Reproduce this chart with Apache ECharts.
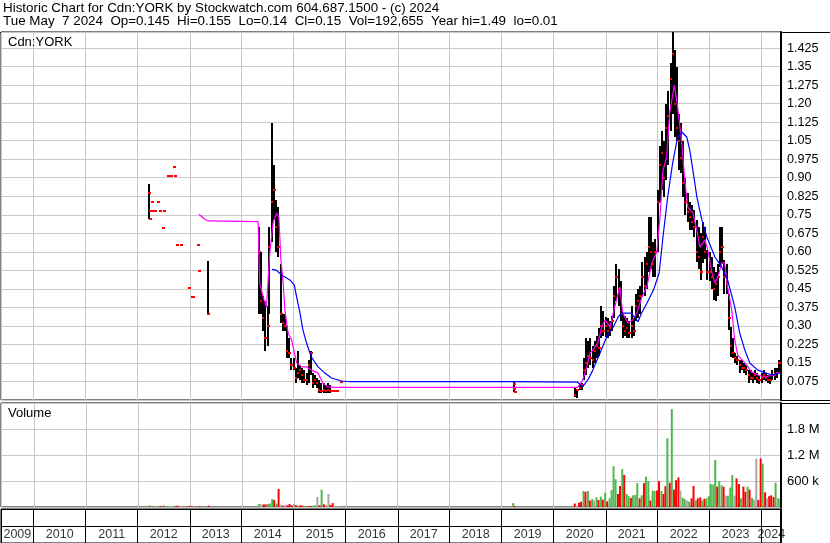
<!DOCTYPE html>
<html><head><meta charset="utf-8">
<script src="https://cdn.jsdelivr.net/npm/echarts@6.0.0/dist/echarts.min.js"></script>
<style>html,body{margin:0;padding:0;background:#fff}#c{width:830px;height:543px}</style>
</head><body><div id="c"></div>
<script>
const headerLine1 = 'Historic Chart for Cdn:YORK by Stockwatch.com 604.687.1500 - (c) 2024';
const headerLine2 = 'Tue May  7 2024  Op=0.145  Hi=0.155  Lo=0.14  Cl=0.15  Vol=192,655  Year hi=1.49  lo=0.01';
const symbolLabel = 'Cdn:YORK';
const volumeLabel = 'Volume';
const yearLabels = ['2009','2010','2011','2012','2013','2014','2015','2016','2017','2018','2019','2020','2021','2022','2023','2024'];
const priceTickLabels = ['0.075','0.15','0.225','0.30','0.375','0.45','0.525','0.60','0.675','0.75','0.825','0.90','0.975','1.05','1.125','1.20','1.275','1.35','1.425'];
const volumeTickLabels = ['600 k','1.2 M','1.8 M'];

const tradeDates = [
 '2012-03-22','2012-03-26','2012-03-30','2012-04-12','2012-04-20','2012-05-01','2012-05-20','2012-06-07','2012-06-29','2012-07-04',
 '2012-08-01','2012-08-12','2012-08-24','2012-09-10','2012-09-22','2012-10-03','2012-10-30','2012-12-27','2013-01-15','2013-01-24',
 '2013-03-03','2013-03-09','2013-05-12',
 '2014-05-01','2014-05-15','2014-06-01','2014-06-15','2014-07-01','2014-07-15','2014-08-01','2014-08-15','2014-09-01','2014-09-15',
 '2014-10-01','2014-10-15','2014-11-01','2014-11-15','2014-12-01','2014-12-15','2015-01-01','2015-01-15','2015-02-01','2015-02-15',
 '2015-03-01','2015-03-15','2015-04-01','2015-04-15','2015-05-01','2015-05-15','2015-06-01','2015-06-15','2015-07-01','2015-07-15',
 '2015-08-01','2015-08-15','2015-09-01','2015-09-15','2015-10-01','2015-10-15','2015-11-01','2015-12-01',
 '2019-03-25','2019-04-01','2019-04-08',
 '2020-06-01','2020-06-15','2020-07-01','2020-07-15','2020-08-01','2020-08-15','2020-09-01','2020-09-15','2020-10-01','2020-10-15','2020-11-01','2020-11-15','2020-12-01','2020-12-15',
 '2021-01-01','2021-01-15','2021-02-01','2021-02-15','2021-03-01','2021-03-15','2021-04-01','2021-04-15','2021-05-01','2021-05-15','2021-06-01','2021-06-15',
 '2021-07-01','2021-07-15','2021-08-01','2021-08-15','2021-09-01','2021-09-15','2021-10-01','2021-10-15','2021-11-01','2021-11-15','2021-12-01','2021-12-15',
 '2022-01-01','2022-01-15','2022-02-01','2022-02-15','2022-03-01','2022-03-15','2022-04-01','2022-04-15','2022-05-01','2022-05-15','2022-06-01','2022-06-15',
 '2022-07-01','2022-07-15','2022-08-01','2022-08-15','2022-09-01','2022-09-15','2022-10-01','2022-10-15','2022-11-01','2022-11-15','2022-12-01','2022-12-15',
 '2023-01-01','2023-01-15','2023-02-01','2023-02-15','2023-03-01','2023-03-15','2023-04-01','2023-04-15','2023-05-01','2023-05-15','2023-06-01','2023-06-15',
 '2023-07-01','2023-07-15','2023-08-01','2023-08-15','2023-09-01','2023-09-15','2023-10-01','2023-10-15','2023-11-01','2023-11-15','2023-12-01','2023-12-15',
 '2024-01-01','2024-01-15','2024-02-01','2024-02-15','2024-03-01','2024-03-15','2024-04-01','2024-04-15','2024-05-01','2024-05-07'
];
const tradeLow = [
 .733,.733,.767,.803,.767,.767,.803,.767,.698,.767, .908,.908,.908,.945,.908,.629,.629,.455,.418,.418, .629,.524,.350,
 .35,.35,.28,.20,.22,.35,.64,.73,.60,.58, .31,.28,.28,.17,.17,.12,.12,.07,.09,.08,
 .07,.07,.06,.07,.10,.05,.06,.05,.03,.03, .03,.03,.03,.03,.035,.035,.035,.072,
 .034,.045,.034,
 .012,.01,.04,.04,.08,.10,.13,.14,.13,.15,.17,.18,.25,.26,
 .255,.25,.26,.28,.33,.40,.38,.32,.25,.26,.25,.25, .25,.26,.32,.33,.35,.42,.42,.45,.52,.53,.50,.50,
 .60,.80,.85,.82,.89,.95,1.09,1.16,1.065,1.05,.93,.92, .82,.75,.72,.69,.69,.66,.56,.53,.486,.555,.57,.486,
 .48,.45,.405,.40,.42,.54,.55,.43,.43,.283,.174,.17, .15,.14,.11,.12,.11,.10,.069,.08,.07,.08,.07,.065,
 .07,.08,.075,.07,.065,.08,.08,.09,.11,.14
];
const tradeHigh = [
 .875,.733,.767,.803,.767,.767,.803,.767,.698,.767, .908,.908,.908,.945,.908,.629,.629,.455,.418,.418, .629,.524,.563,
 .70,.60,.42,.40,.38,.70,1.12,.95,.81,.78, .55,.35,.35,.30,.25,.17,.17,.13,.20,.14,
 .13,.12,.11,.16,.20,.11,.10,.09,.08,.07, .07,.06,.07,.06,.035,.035,.035,.072,
 .074,.045,.034,
 .05,.045,.06,.07,.17,.25,.24,.25,.22,.24,.26,.29,.38,.36,
 .335,.33,.32,.34,.46,.55,.53,.48,.35,.34,.33,.32, .38,.33,.43,.45,.46,.56,.58,.60,.74,.74,.64,.65,
 .85,1.03,1.09,1.05,1.20,1.25,1.365,1.49,1.417,1.35,1.16,1.12, 1.05,.90,.84,.80,.79,.77,.73,.70,.676,.72,.70,.607,
 .60,.58,.54,.52,.55,.70,.70,.567,.55,.43,.296,.25, .19,.18,.162,.16,.15,.14,.12,.12,.11,.12,.11,.10,
 .11,.12,.11,.10,.10,.12,.13,.13,.16,.155
];
const tradeClose = [
 .840,.733,.767,.803,.767,.767,.803,.767,.698,.767, .908,.908,.908,.945,.908,.629,.629,.455,.418,.418, .629,.524,.350,
 .60,.40,.33,.25,.30,.62,.80,.85,.70,.62, .35,.31,.30,.20,.19,.14,.13,.09,.11,.12,
 .10,.08,.08,.14,.19,.07,.08,.07,.04,.035, .04,.035,.04,.035,.035,.035,.035,.072,
 .065,.045,.034,
 .02,.04,.05,.06,.12,.15,.18,.17,.16,.20,.22,.21,.30,.28,
 .30,.28,.29,.32,.42,.50,.45,.35,.30,.28,.29,.27, .30,.28,.38,.40,.42,.50,.46,.55,.62,.60,.55,.60,
 .80,.95,1.00,.90,1.10,1.15,1.30,1.40,1.20,1.10,1.05,.98, .88,.80,.76,.74,.72,.70,.60,.58,.52,.66,.60,.52,
 .52,.50,.45,.47,.50,.60,.62,.50,.47,.33,.22,.19, .17,.16,.14,.13,.13,.12,.10,.09,.09,.10,.09,.08,
 .09,.10,.09,.08,.08,.10,.10,.11,.15,.15
];
// volume in thousands of shares
const tradeVolume = [
 30,20,25,20,20,25,20,20,30,20, 25,20,20,25,20,30,20,25,25,20, 20,20,30,
 70,60,60,60,70,80,185,160,80,415, 50,30,40,40,70,40,70,40,30,40,
 30,20,20,20,20,30,40,230,40,400, 60,40,300,50,90,20,20,30,
 90,20,20,
 80,30,100,120,370,350,370,150,180,150,225,160,240,170,
 330,130,200,390,940,640,300,485,875,740,300,250, 210,270,280,550,200,270,550,700,600,150,380,370,
 380,600,370,300,480,1585,560,2260,400,620,685,380, 210,180,150,120,200,485,150,200,220,150,190,200,
 250,530,520,1085,470,600,500,470,260,260,450,740, 260,660,530,200,470,350,470,400,210,170,1120,160,
 1120,1000,340,200,250,270,230,560,200,193
];
// u = up day, d = down day, n = unchanged
const tradeDir = [
 'd','d','u','u','d','n','u','d','d','u', 'u','n','n','u','d','d','n','d','d','n', 'u','d','d',
 'u','n','d','d','u','u','u','d','u','d', 'n','d','n','d','d','d','n','d','u','d',
 'd','u','u','d','d','u','u','n','d','u', 'd','n','n','d','d','n','n','n',
 'u','d','d',
 'd','n','d','d','u','d','u','d','u','n','u','d','u','d',
 'u','d','u','u','u','u','d','d','u','d','u','u', 'd','u','u','u','d','u','d','u','u','d','u','u',
 'd','d','u','d','d','u','d','u','d','d','d','n', 'u','u','n','u','d','d','u','d','d','u','d','u',
 'u','u','u','u','d','u','u','d','n','u','u','u', 'n','d','d','u','d','d','u','d','u','n','n','d',
 'd','u','d','n','d','d','d','u','n','u'
];

const maFastDates = ['2013-03-07','2013-04-10','2013-05-09','2014-04-26','2014-05-07','2014-05-31','2014-06-24','2014-07-17','2014-08-09','2014-09-03',
 '2014-09-19','2014-10-03','2014-10-19','2014-10-31','2014-11-23','2014-12-17','2015-01-22','2015-02-26','2015-04-01','2015-05-05',
 '2015-06-21','2015-07-24','2015-08-28','2015-10-14','2020-06-18','2020-07-23','2020-08-21','2020-09-12','2020-10-02','2020-11-07',
 '2020-12-05','2020-12-26','2021-01-31','2021-03-05','2021-04-10','2021-04-30','2021-06-05','2021-07-10','2021-08-08','2021-09-12',
 '2021-10-17','2021-11-21','2021-12-26','2022-01-17','2022-02-07','2022-03-05','2022-03-26','2022-04-28','2022-05-21','2022-06-19',
 '2022-07-10','2022-07-31','2022-09-05','2022-10-03','2022-10-24','2022-11-29','2022-12-19','2023-01-17','2023-02-07','2023-02-28',
 '2023-03-26','2023-04-16','2023-05-07','2023-06-05','2023-06-26','2023-07-17','2023-09-05','2023-10-24','2023-12-05','2024-01-24',
 '2024-03-12','2024-05-07'];
const maFastValues = [.752,.735,.725,.722,.474,.417,.377,.595,.717,.757,
 .741,.567,.474,.364,.271,.243,.150,.134,.134,.121,
 .109,.069,.053,.051,.051,.081,.134,.190,.202,.231,
 .296,.324,.296,.377,.458,.352,.312,.324,.352,.417,
 .460,.555,.600,.741,.930,.984,1.162,1.275,1.186,1.040,
 .890,.781,.757,.688,.619,.648,.607,.514,.474,.498,
 .555,.555,.458,.364,.243,.182,.150,.113,.101,.093,
 .101,.113];

const maSlowDates = ['2014-08-02','2014-08-31','2014-10-08','2014-12-05','2015-01-05','2015-01-22','2015-02-14','2015-03-07','2015-04-01','2015-05-05',
 '2015-06-21','2015-08-08','2015-09-24','2015-12-03','2016-02-01','2019-03-20','2019-03-27','2020-06-18','2020-07-23','2020-09-01',
 '2020-10-02','2020-11-22','2021-01-08','2021-02-24','2021-03-30','2021-04-22','2021-06-30','2021-08-15','2021-09-09','2021-10-17',
 '2021-12-02','2022-01-11','2022-02-07','2022-03-12','2022-04-16','2022-05-21','2022-06-19','2022-07-24','2022-08-14','2022-09-05',
 '2022-10-03','2022-11-07','2022-12-12','2023-02-07','2023-03-26','2023-05-07','2023-06-26','2023-07-31','2023-09-05','2023-10-10',
 '2023-12-05','2024-03-12','2024-05-07'];
const maSlowValues = [.529,.526,.506,.486,.466,.417,.352,.283,.231,.174,
 .134,.109,.089,.077,.074,.074,.072,.072,.053,.085,
 .121,.190,.256,.297,.337,.352,.352,.317,.351,.392,
 .445,.514,.660,.822,.960,1.065,1.085,1.065,1.012,.931,
 .822,.729,.660,.579,.539,.486,.377,.271,.202,.150,
 .121,.101,.109];

const FONT = 'Liberation Sans, Arial, sans-serif';
const X_MIN = '2009-05-16', X_MAX = '2024-05-16';
const DIR_COLOR = { u: '#4cb84c', d: '#ff0000', n: '#a8a8a8' };
const GRID_GRAY = '#c8c8c8';
const YEAR_MS = 365.25 * 24 * 3600 * 1000;

const chart = echarts.init(document.getElementById('c'), null, { renderer: 'canvas' });

function timeAxis(gridIndex, lineColor) {
  return {
    type: 'time', gridIndex, min: X_MIN, max: X_MAX,
    splitNumber: 15, minInterval: YEAR_MS * 0.99, maxInterval: YEAR_MS * 1.01,
    axisLine: { show: false }, axisTick: { show: false }, axisLabel: { show: false },
    splitLine: { show: true, lineStyle: { color: lineColor, width: 1 } }
  };
}

function renderBar(params, api) {
  const hi = api.coord([api.value(0), api.value(2)]);
  const lo = api.coord([api.value(0), api.value(1)]);
  const cl = api.coord([api.value(0), api.value(3)]);
  const x = Math.round(hi[0]);
  const top = Math.round(hi[1]);
  const h = Math.max(1, Math.round(lo[1]) - top);
  return {
    type: 'group',
    children: [
      { type: 'rect', shape: { x: x - 1, y: top, width: 2, height: h }, style: { fill: '#000' } },
      { type: 'rect', shape: { x: x - 1, y: Math.round(cl[1]) - 1, width: 3, height: 2 }, style: { fill: '#ff0000' } }
    ]
  };
}

const xMinTs = +echarts.time.parse(X_MIN), xMaxTs = +echarts.time.parse(X_MAX);
const yearLabelData = yearLabels.map(y => {
  const s = Math.max(+new Date(+y, 0, 1), xMinTs);
  const e = Math.min(+new Date(+y + 1, 0, 1), xMaxTs);
  return [(s + e) / 2, 0.5];
});

const option = {
  animation: false,
  backgroundColor: '#fff',
  textStyle: { fontFamily: FONT },
  title: [
    { text: headerLine1 + '\n' + headerLine2, left: 3, top: 1.5, padding: 0,
      textStyle: { fontFamily: FONT, fontSize: 13.4, fontWeight: 'normal', color: '#000', lineHeight: 13 } },
    { text: symbolLabel, left: 8, top: 35.5, padding: 0,
      textStyle: { fontFamily: FONT, fontSize: 13, fontWeight: 'normal', color: '#000' } },
    { text: volumeLabel, left: 8, top: 406.5, padding: 0,
      textStyle: { fontFamily: FONT, fontSize: 13, fontWeight: 'normal', color: '#000' } }
  ],
  grid: [
    { left: 1, right: 49, top: 32, height: 368, show: true, borderColor: '#000', borderWidth: 1 },
    { left: 1, right: 49, top: 403, height: 104, show: true, borderColor: '#000', borderWidth: 1 },
    { left: 1, right: 49, top: 509, height: 34, show: true, borderColor: '#000', borderWidth: 1 }
  ],
  xAxis: [timeAxis(0, GRID_GRAY), timeAxis(1, GRID_GRAY), timeAxis(2, '#000')],
  yAxis: [
    { type: 'value', gridIndex: 0, position: 'right', min: 0, max: 1.49, interval: 0.075,
      axisLine: { show: true, lineStyle: { color: '#000', width: 2 } }, axisTick: { show: false },
      splitLine: { show: true, lineStyle: { color: GRID_GRAY } },
      axisLabel: { show: true, margin: 6, color: '#000', fontSize: 12.6, fontFamily: FONT,
        showMinLabel: false, showMaxLabel: false,
        formatter: v => { const i = Math.round(v / 0.075) - 1; return priceTickLabels[i] || ''; } } },
    { type: 'value', gridIndex: 1, position: 'right', min: 0, max: 2400, interval: 600,
      axisLine: { show: true, lineStyle: { color: '#000', width: 2 } }, axisTick: { show: false },
      splitLine: { show: true, lineStyle: { color: GRID_GRAY } },
      axisLabel: { show: true, margin: 6, color: '#000', fontSize: 13, fontFamily: FONT,
        showMinLabel: false, showMaxLabel: false,
        formatter: v => { const i = Math.round(v / 600) - 1; return volumeTickLabels[i] || ''; } } },
    { type: 'value', gridIndex: 2, position: 'right', min: 0, max: 2, interval: 1,
      axisLine: { show: true, lineStyle: { color: '#000', width: 2 } }, axisTick: { show: false },
      axisLabel: { show: false }, splitLine: { show: true, lineStyle: { color: '#000' } } }
  ],
  series: [
    { type: 'custom', name: 'price', xAxisIndex: 0, yAxisIndex: 0, renderItem: renderBar, clip: true, z: 2,
      encode: { x: 0, y: [1, 2, 3] },
      data: tradeDates.map((d, i) => [d, tradeLow[i], tradeHigh[i], tradeClose[i]]) },
    { type: 'line', name: 'maFast', xAxisIndex: 0, yAxisIndex: 0, showSymbol: false, z: 3,
      lineStyle: { color: '#ff00ff', width: 1.2 }, itemStyle: { color: '#ff00ff' },
      data: maFastDates.map((d, i) => [d, maFastValues[i]]) },
    { type: 'line', name: 'maSlow', xAxisIndex: 0, yAxisIndex: 0, showSymbol: false, z: 4,
      lineStyle: { color: '#0000ff', width: 1.2 }, itemStyle: { color: '#0000ff' },
      data: maSlowDates.map((d, i) => [d, maSlowValues[i]]) },
    { type: 'bar', name: 'volume', xAxisIndex: 1, yAxisIndex: 1, barWidth: 2, z: 2,
      data: tradeDates.map((d, i) => ({ value: [d, tradeVolume[i]], itemStyle: { color: DIR_COLOR[tradeDir[i]] } })) },
    { type: 'scatter', name: 'years', xAxisIndex: 2, yAxisIndex: 2, symbolSize: 0, silent: true,
      label: { show: true, position: 'inside', color: '#000', fontSize: 12.5, fontFamily: FONT,
        formatter: p => yearLabels[p.dataIndex] },
      data: yearLabelData }
  ],
  graphic: [
    { type: 'line', shape: { x1: 0, y1: 32.5, x2: 830, y2: 32.5 }, style: { stroke: '#000', lineWidth: 1 }, silent: true },
    { type: 'line', shape: { x1: 781, y1: 400.5, x2: 830, y2: 400.5 }, style: { stroke: '#000', lineWidth: 1 }, silent: true },
    { type: 'line', shape: { x1: 781, y1: 403.5, x2: 830, y2: 403.5 }, style: { stroke: '#000', lineWidth: 1 }, silent: true }
  ]
};
chart.setOption(option);
</script>
</body></html>
